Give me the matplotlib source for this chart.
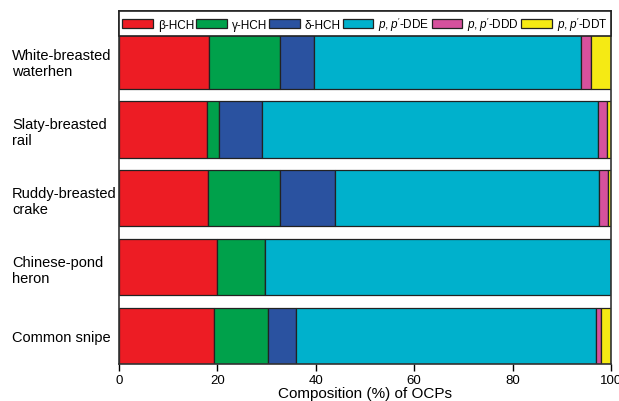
import matplotlib.pyplot as plt
import numpy as np

plt.rcParams['font.family'] = ['Liberation Sans', 'DejaVu Sans']
plt.rcParams['mathtext.fontset'] = 'custom'
plt.rcParams['mathtext.rm'] = 'Liberation Sans'
plt.rcParams['mathtext.it'] = 'Liberation Sans:italic'

# birds, top to bottom
birds = ['White-breasted\nwaterhen', 'Slaty-breasted\nrail', 'Ruddy-breasted\ncrake',
         'Chinese-pond\nheron', 'Common snipe']
compounds = ['β-HCH', 'γ-HCH', 'δ-HCH', "$p,p'$-DDE", "$p,p'$-DDD", "$p,p'$-DDT"]
beta_hch = [18.4, 17.9, 18.2, 19.9, 19.4]
gamma_hch = [14.4, 2.4, 14.6, 9.9, 11.0]
delta_hch = [6.9, 8.8, 11.2, 0.0, 5.6]
pp_dde = [54.2, 68.2, 53.5, 70.2, 61.0]
pp_ddd = [2.0, 1.9, 1.8, 0.0, 1.0]
pp_ddt = [4.1, 0.8, 0.7, 0.0, 2.0]
colors = ['#ED1C24', '#00A14B', '#2A52A0', '#00B1CC', '#D6519D', '#F5EA14']

series = [beta_hch, gamma_hch, delta_hch, pp_dde, pp_ddd, pp_ddt]

fig = plt.figure(figsize=(6.19, 4.02), dpi=100)
ax = fig.add_axes([0.192, 0.092, 0.795, 0.878])

y = np.arange(len(birds))[::-1]
left = np.zeros(len(birds))
for vals, c, name in zip(series, colors, compounds):
    vals = np.array(vals)
    ax.barh(y, vals, left=left, height=0.82, color=c, edgecolor='#222222',
            linewidth=0.9, label=name)
    left += vals

ax.set_xlim(0, 100)
ax.set_ylim(-0.41, 4.72)
ax.set_xticks([0, 20, 40, 60, 80, 100])
ax.tick_params(axis='x', direction='out', length=5, width=1, labelsize=9.5, pad=2)
ax.set_yticks(y)
ax.set_yticklabels(birds, fontsize=10.5)
ax.tick_params(axis='y', length=0, pad=77)
for lab in ax.get_yticklabels():
    lab.set_horizontalalignment('left')
    lab.set_multialignment('left')
ax.set_xlabel('Composition (%) of OCPs', fontsize=11, labelpad=0)

for sp in ax.spines.values():
    sp.set_linewidth(1.2)
    sp.set_color('#333333')

leg = ax.legend(loc='upper center', bbox_to_anchor=(0, 0.95, 1, 0.05), mode='expand',
                ncol=6, borderaxespad=0, fancybox=False, edgecolor='#222222',
                fontsize=8.5, handlelength=2.6, handleheight=0.85, handletextpad=0.4,
                columnspacing=0.2, borderpad=0.3, framealpha=1)
leg.get_frame().set_linewidth(1.2)

fig.savefig('out.png', dpi=100)
